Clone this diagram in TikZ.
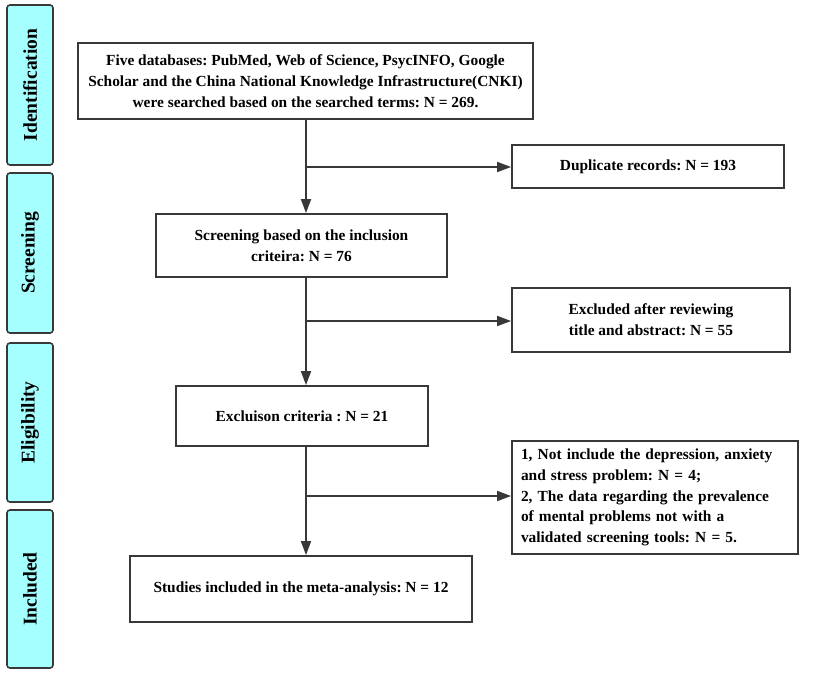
\documentclass[tikz,border=0pt]{standalone}
\usepackage{fontspec}
\setmainfont{Liberation Serif}
\usetikzlibrary{arrows.meta}
\definecolor{phase}{HTML}{A6FFFF}
\definecolor{ink}{HTML}{383838}
\tikzset{
  phasebox/.style={draw=ink, line width=1.6pt, fill=phase, rounded corners=3pt,
    minimum width=46pt, inner sep=0pt, font=\fontsize{19.5}{22}\selectfont\bfseries},
  flowbox/.style={draw=ink, line width=1.8pt, fill=white, inner sep=0pt, align=center,
    font=\fontsize{15.4}{20.7}\selectfont\bfseries\frenchspacing},
  flowline/.style={draw=ink, line width=1.8pt},
  flowarrow/.style={flowline, -{Triangle[length=14pt,width=10pt]}}
}
\begin{document}
\begin{tikzpicture}[x=1pt,y=-1pt]
\useasboundingbox (0,0) rectangle (829,675);
% phase bars
\node[phasebox, minimum height=160pt] (pid) at (30,85) {\rotatebox{90}{Identification}};
\node[phasebox, minimum height=160pt] (psc) at (30,253) {\rotatebox{90}{Screening}};
\node[phasebox, minimum height=159pt] (pel) at (30,422.5) {\rotatebox{90}{Eligibility}};
\node[phasebox, minimum height=158pt] (pin) at (30,589) {\rotatebox{90}{Included}};
% main flow
\node[flowbox, minimum width=455pt, minimum height=76pt] (b1) at (305.5,81)
  {Five databases: PubMed, Web of Science, PsycINFO, Google\\Scholar and the China National Knowledge Infrastructure(CNKI)\\were searched based on the searched terms: N = 269.};
\node[flowbox, minimum width=272pt, minimum height=43pt] (dup) at (648,166.5)
  {Duplicate records: N = 193};
\node[flowbox, minimum width=291pt, minimum height=63pt] (b2) at (301.5,245.5)
  {Screening based on the inclusion\\criteira: N = 76};
\node[flowbox, minimum width=278pt, minimum height=64pt] (ex1) at (651,320)
  {Excluded after reviewing\\title and abstract: N = 55};
\node[flowbox, minimum width=252pt, minimum height=60pt] (b3) at (302,416)
  {Excluison criteria : N = 21};
\node[flowbox, minimum width=286pt, minimum height=113pt, align=left, text width=268pt] (ex2) at (655,497.5)
  {1, Not include the depression, anxiety\\and stress problem: N = 4;\\2, The data regarding the prevalence\\of mental problems not with a\\validated screening tools: N = 5.};
\node[flowbox, minimum width=342pt, minimum height=66pt] (b4) at (301,589)
  {Studies included in the meta-analysis: N = 12};
% spine coordinates
\coordinate (s) at (306,0);
\coordinate (j1) at (306,167);
\coordinate (j2) at (306,321);
\coordinate (j3) at (306,496);
% connectors
\draw[flowarrow] (b1.south -| s) -- (b2.north -| s);
\draw[flowarrow] (j1) -- (j1 -| dup.west);
\draw[flowarrow] (b2.south -| s) -- (b3.north -| s);
\draw[flowarrow] (j2) -- (j2 -| ex1.west);
\draw[flowarrow] (b3.south -| s) -- (b4.north -| s);
\draw[flowarrow] (j3) -- (j3 -| ex2.west);
\end{tikzpicture}
\end{document}
